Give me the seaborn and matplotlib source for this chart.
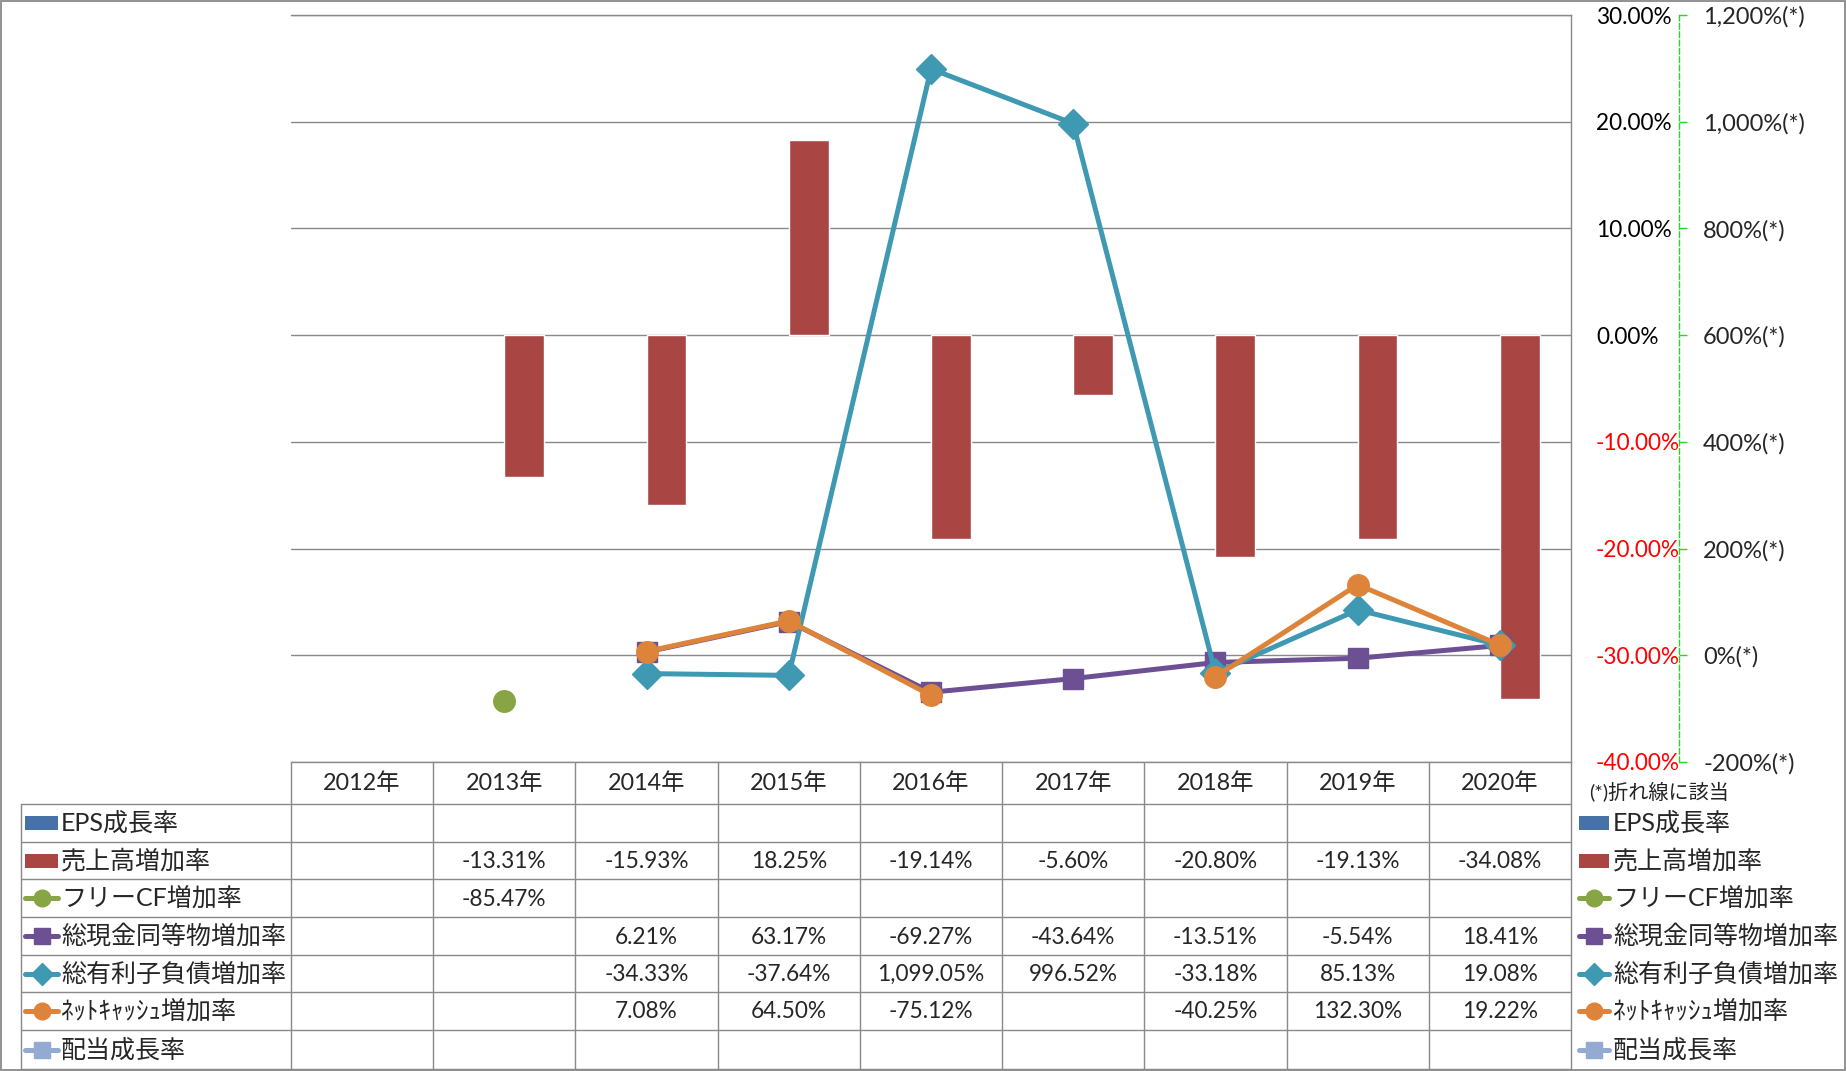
import numpy as np
import pandas as pd
import matplotlib
matplotlib.use("Agg")
import matplotlib.pyplot as plt
from matplotlib.patches import Rectangle
import seaborn as sns

nan = np.nan

years = ["2012年", "2013年", "2014年", "2015年", "2016年", "2017年", "2018年", "2019年", "2020年"]

# bar series (left axis, %)
eps_growth = [nan] * 9
sales_growth = [nan, -13.31, -15.93, 18.25, -19.14, -5.60, -20.80, -19.13, -34.08]

# line series (right axis, %)
free_cf_growth = [nan, -85.47, nan, nan, nan, nan, nan, nan, nan]
cash_growth = [nan, nan, 6.21, 63.17, -69.27, -43.64, -13.51, -5.54, 18.41]
debt_growth = [nan, nan, -34.33, -37.64, 1099.05, 996.52, -33.18, 85.13, 19.08]
netcash_growth = [nan, nan, 7.08, 64.50, -75.12, nan, -40.25, 132.30, 19.22]
dividend_growth = [nan] * 9

left_ticks = [-40, -30, -20, -10, 0, 10, 20, 30]
right_ticks = [-200, 0, 200, 400, 600, 800, 1000, 1200]

names = ["EPS成長率", "売上高増加率", "フリーCF増加率", "総現金同等物増加率",
         "総有利子負債増加率", "ﾈｯﾄｷｬｯｼｭ増加率", "配当成長率"]
values = [eps_growth, sales_growth, free_cf_growth, cash_growth,
          debt_growth, netcash_growth, dividend_growth]
kinds = ["bar", "bar", "line", "line", "line", "line", "line"]
colors = ["#4672A8", "#A94644", "#87A545", "#6C5093", "#3F99B2", "#DE843A", "#93ABD3"]
markers = [None, None, "o", "s", "D", "o", "s"]
msizes = [0, 0, 15.5, 14.5, 15.5, 15.5, 14.5]

sns.set_style("white")
plt.rcParams["font.family"] = ["Lato", "Noto Sans CJK JP", "DejaVu Sans"]

W, H = 1846, 1071
fig = plt.figure(figsize=(W / 100, H / 100), dpi=100)

# plot area in pixels
px_l, px_r, px_t, px_b = 291, 1571, 15, 762
ax = fig.add_axes([px_l / W, 1 - px_b / H, (px_r - px_l) / W, (px_b - px_t) / H])

bars = pd.DataFrame({
    "year": years * 2,
    "series": [names[0]] * 9 + [names[1]] * 9,
    "value": eps_growth + sales_growth,
})
sns.barplot(data=bars, x="year", y="value", hue="series", hue_order=names[:2],
            palette=colors[:2], width=0.56, gap=0, saturation=1, errorbar=None,
            legend=False, ax=ax, zorder=2)
ax.set_xlabel("")
ax.set_ylabel("")
ax.set_xlim(-0.5, 8.5)
ax.set_ylim(-40, 30)

grid_c = "#898989"
ax.grid(axis="y", color=grid_c, lw=1.0, zorder=0)
ax.set_axisbelow(True)
ax.spines["left"].set_visible(False)
for s in ["top", "bottom", "right"]:
    ax.spines[s].set_color(grid_c)
    ax.spines[s].set_linewidth(1.0)

ax2 = ax.twinx()
ax2.set_ylim(-200, 1200)

# left-axis labels sit on the right side, next to the plot
ax.yaxis.tick_right()
ax.set_yticks(left_ticks)
ax.set_yticklabels([f"{v:.2f}%" for v in left_ticks])
for lab, v in zip(ax.get_yticklabels(), left_ticks):
    lab.set_color("#FF0000" if v < 0 else "black")
ax.tick_params(axis="y", length=0, pad=18, labelsize=16.3,
               left=False, right=False, labelleft=False, labelright=True)
ax.tick_params(axis="x", length=0, pad=15, labelsize=16.8)
for lab in ax.get_xticklabels():
    lab.set_va("center")

xs = np.arange(len(years))
for name, vals, kind, c, m, ms in zip(names, values, kinds, colors, markers, msizes):
    if kind != "line":
        continue
    ax2.plot(xs, vals, color=c, lw=3.6, marker=m, ms=ms, mec=c, mfc=c,
             solid_joinstyle="round", solid_capstyle="round")
ax2.set_yticks(right_ticks)
ax2.set_yticklabels([f"{v:,}%(*)" for v in right_ticks])
for lab, v in zip(ax2.get_yticklabels(), right_ticks):
    lab.set_color("#FF0000" if v < 0 else "black")
green = "#2BD42B"
ax2.tick_params(axis="y", direction="out", length=5.8, width=1, color=green,
                pad=11.5, labelsize=17)
for s in ["top", "bottom", "left"]:
    ax2.spines[s].set_visible(False)
ax2.spines["right"].set_position(("outward", 77.8))
ax2.spines["right"].set_color(green)
ax2.spines["right"].set_linestyle((0, (4, 2)))
ax2.spines["right"].set_linewidth(1)

# data table with legend keys
tab = fig.add_axes([0, 0, 1, 1], zorder=-1)
tab.set_xlim(0, W)
tab.set_ylim(H, 0)
tab.axis("off")

col_w = (px_r - px_l) / len(years)
row_edges = [804, 842, 879, 917, 955, 992, 1030, 1069]
leg_l = 21

for y in row_edges:
    tab.plot([leg_l, px_r], [y, y], color=grid_c, lw=1.0)
tab.plot([leg_l, leg_l], [row_edges[0], row_edges[-1]], color=grid_c, lw=1.0)
for k in range(len(years) + 1):
    x = px_l + k * col_w
    tab.plot([x, x], [px_b, row_edges[-1]], color=grid_c, lw=1.0)
tab.add_patch(Rectangle((0.7, 0.7), W - 1.4, H - 1.4, fill=False, ec=grid_c, lw=1.3))


def legend_key(x0, x1, yc, kind, c, m):
    if kind == "bar":
        tab.add_patch(Rectangle((x0, yc - 7), x1 - x0, 14, color=c, lw=0))
    else:
        tab.plot([x0, x1], [yc, yc], color=c, lw=3.6, solid_capstyle="round")
        tab.plot([(x0 + x1) / 2], [yc], color=c, marker=m, ms=12 if m != "D" else 11.5,
                 mec=c, mfc=c)


for i, (name, vals, kind, c, m) in enumerate(zip(names, values, kinds, colors, markers)):
    yc = (row_edges[i] + row_edges[i + 1]) / 2
    legend_key(25, 58, yc, kind, c, m)
    tab.text(61, yc, name, fontsize=18, va="center", ha="left")
    legend_key(1579, 1609, yc, kind, c, m)
    tab.text(1613, yc, name, fontsize=18, va="center", ha="left")
    for j, v in enumerate(vals):
        if np.isnan(v):
            continue
        tab.text(px_l + (j + 0.5) * col_w, yc + 1, f"{v:,.2f}%", fontsize=16.3,
                 va="center", ha="center")

tab.text(1589, 791, "(*)折れ線に該当", fontsize=14.5, va="center", ha="left", color="#222222")

fig.savefig("out.png", dpi=100)
